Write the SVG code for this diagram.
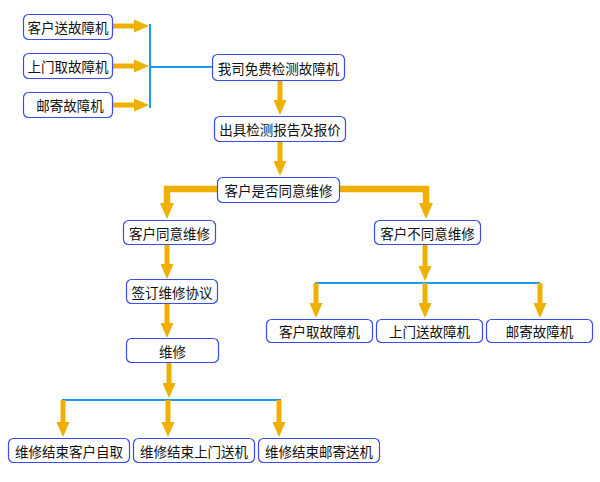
<svg xmlns="http://www.w3.org/2000/svg" width="600" height="482" viewBox="0 0 600 482">
<defs>
<style>
.n rect{fill:#fff;stroke:#3a4cf0;stroke-width:1.2}
.n text{font-family:"Noto Sans CJK SC","Noto Sans CJK JP",sans-serif;font-size:13.5px;fill:#111;text-anchor:middle;dominant-baseline:central}
.a{stroke:#f0b000;stroke-width:5;fill:none;marker-end:url(#ah)}
.t{stroke:#f0b000;stroke-width:6.5;fill:none;marker-end:url(#ah2)}
.b{stroke:#2196f3;stroke-width:2;fill:none}
</style>
<marker id="ah" markerUnits="userSpaceOnUse" markerWidth="16" markerHeight="13" refX="0" refY="6.5" orient="auto"><path d="M0,0 L15,6.5 L0,13 z" fill="#f0b000"/></marker>
<marker id="ah2" markerUnits="userSpaceOnUse" markerWidth="17" markerHeight="14" refX="0" refY="7" orient="auto"><path d="M0,0 L16,7 L0,14 z" fill="#f0b000"/></marker>
</defs>
<rect width="600" height="482" fill="#fff"/>
<g id="connectors">
<line class="a" x1="113" y1="26" x2="134" y2="26"/>
<line class="a" x1="113" y1="66" x2="134" y2="66"/>
<line class="a" x1="113" y1="105" x2="134" y2="105"/>
<line class="b" x1="150" y1="24" x2="150" y2="108"/>
<line class="b" x1="150" y1="67" x2="212" y2="67"/>
<line class="a" x1="280" y1="80" x2="280" y2="100"/>
<line class="a" x1="280" y1="142" x2="280" y2="161"/>
<path class="t" d="M217,189 H167 V203"/>
<path class="t" d="M340,189 H426 V203"/>
<line class="a" x1="167" y1="244" x2="167" y2="264"/>
<line class="a" x1="425" y1="245" x2="425" y2="266"/>
<line class="b" x1="315" y1="283" x2="540" y2="283"/>
<line class="a" x1="316" y1="283" x2="316" y2="303"/>
<line class="a" x1="425" y1="283" x2="425" y2="303"/>
<line class="a" x1="540" y1="283" x2="540" y2="303"/>
<line class="a" x1="167" y1="303" x2="167" y2="323"/>
<line class="a" x1="169" y1="362" x2="169" y2="383"/>
<line class="b" x1="62" y1="400" x2="281" y2="400"/>
<line class="a" x1="63" y1="400" x2="63" y2="422"/>
<line class="a" x1="168" y1="400" x2="168" y2="422"/>
<line class="a" x1="279" y1="400" x2="279" y2="422"/>
</g>
<g id="n1" class="n"><rect x="23.5" y="14.5" width="89" height="25" rx="5"/><text x="68" y="27">客户送故障机</text></g>
<g id="n2" class="n"><rect x="23.5" y="53.5" width="89" height="25" rx="5"/><text x="68" y="66">上门取故障机</text></g>
<g id="n3" class="n"><rect x="23.5" y="92.5" width="89" height="25" rx="5"/><text x="70" y="105">邮寄故障机</text></g>
<g id="n4" class="n"><rect x="212.5" y="54.5" width="132" height="26" rx="5"/><text x="278.5" y="67.5">我司免费检测故障机</text></g>
<g id="n5" class="n"><rect x="214.5" y="116.5" width="131" height="25" rx="5"/><text x="280" y="129">出具检测报告及报价</text></g>
<g id="n6" class="n"><rect x="217.5" y="177.5" width="122" height="25" rx="5"/><text x="278.5" y="190">客户是否同意维修</text></g>
<g id="n7" class="n"><rect x="123.5" y="220.5" width="92" height="24" rx="5"/><text x="169.5" y="232.5">客户同意维修</text></g>
<g id="n8" class="n"><rect x="374.5" y="220.5" width="106" height="24" rx="5"/><text x="427.5" y="232.5">客户不同意维修</text></g>
<g id="n9" class="n"><rect x="126.5" y="279.5" width="91" height="24" rx="5"/><text x="172" y="291.5">签订维修协议</text></g>
<g id="n10" class="n"><rect x="266.5" y="319.5" width="106" height="23" rx="5"/><text x="319.5" y="331">客户取故障机</text></g>
<g id="n11" class="n"><rect x="376.5" y="319.5" width="106" height="23" rx="5"/><text x="429.5" y="331">上门送故障机</text></g>
<g id="n12" class="n"><rect x="486.5" y="319.5" width="106" height="23" rx="5"/><text x="539.5" y="331">邮寄故障机</text></g>
<g id="n13" class="n"><rect x="126.5" y="338.5" width="92" height="24" rx="5"/><text x="172.5" y="350.5">维修</text></g>
<g id="n14" class="n"><rect x="8.5" y="438.5" width="121" height="24" rx="5"/><text x="69" y="450.5">维修结束客户自取</text></g>
<g id="n15" class="n"><rect x="133.5" y="438.5" width="121" height="24" rx="5"/><text x="194" y="450.5">维修结束上门送机</text></g>
<g id="n16" class="n"><rect x="258.5" y="438.5" width="121" height="24" rx="5"/><text x="319" y="450.5">维修结束邮寄送机</text></g>
</svg>
